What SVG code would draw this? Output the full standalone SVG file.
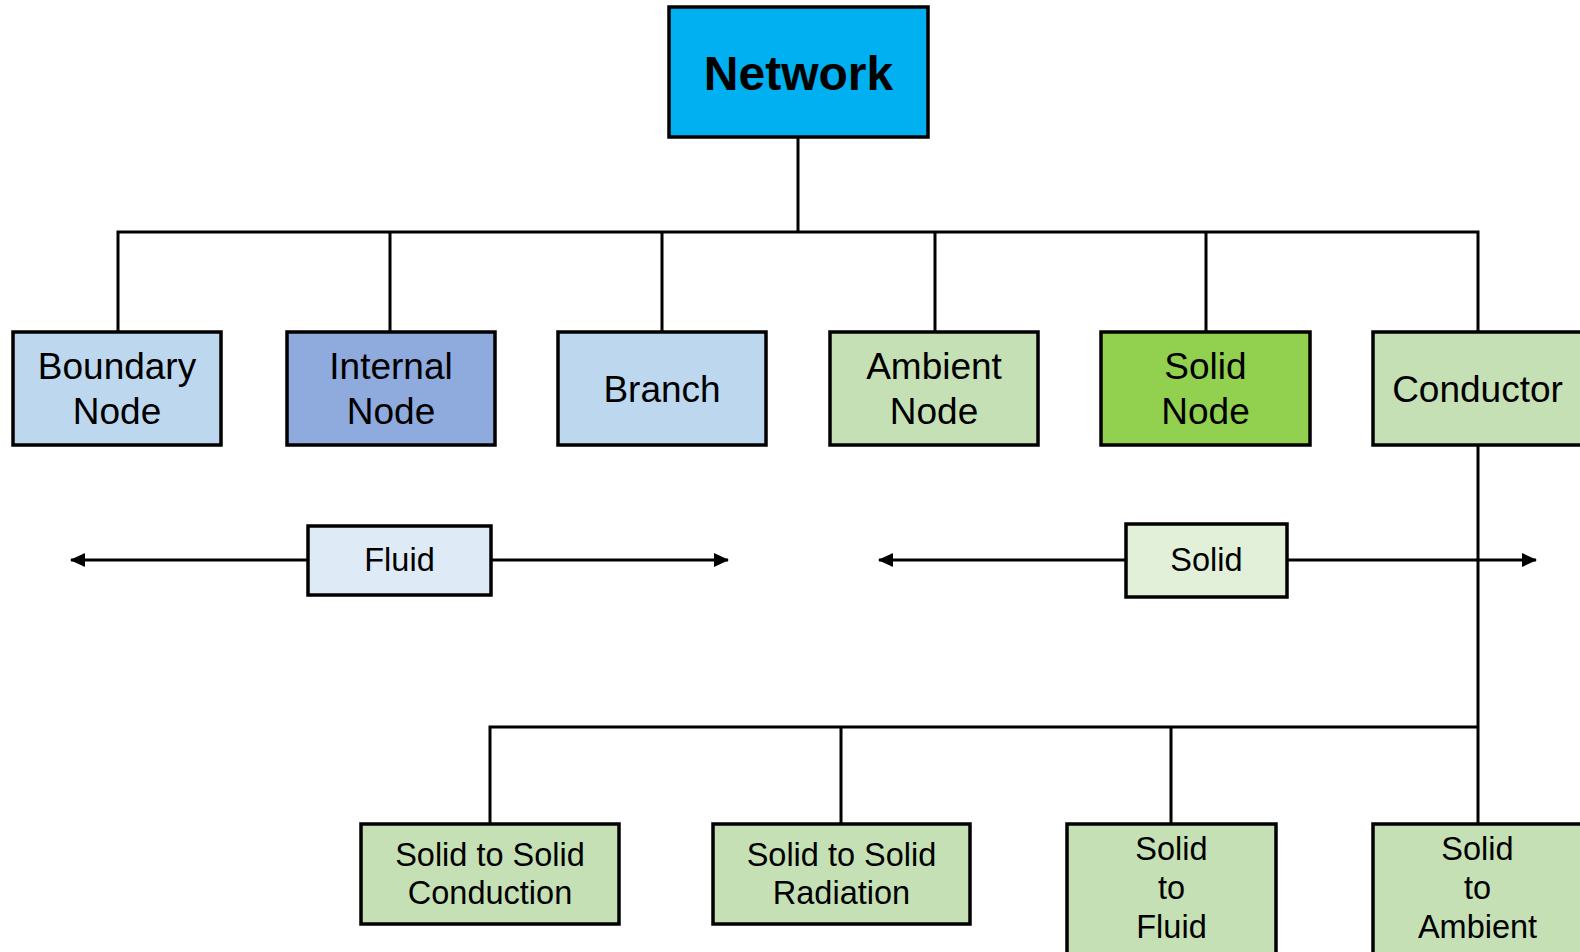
<svg xmlns="http://www.w3.org/2000/svg" width="1580" height="952" viewBox="0 0 1580 952">
  <style>
    .box { stroke: #000; stroke-width: 3.5; }
    .wire { fill: none; stroke: #000; stroke-width: 3; }
    .t { font-family: "Liberation Sans", Arial, sans-serif; fill: #000; text-anchor: middle; }
    .big { font-size: 48px; font-weight: bold; }
    .mid { font-size: 37px; }
    .sm { font-size: 32.5px; }
    .fluidfam { fill: #BDD7EE; }
    .internal { fill: #8FAADC; }
    .thermal { fill: #C5E0B4; }
    .solidnode { fill: #92D050; }
  </style>
  <defs>
    <marker id="arrow" viewBox="0 0 15 14" refX="14" refY="7" markerWidth="15" markerHeight="14" markerUnits="userSpaceOnUse" orient="auto-start-reverse">
      <path d="M0,0 L15,7 L0,14 Z" fill="#000"/>
    </marker>
  </defs>

  <rect width="1580" height="952" fill="#fff"/>

  <!-- connectors -->
  <g id="connectors">
    <path class="wire" d="M798,137 V232"/>
    <path class="wire" d="M118,332 V232 H1478 V332"/>
    <path class="wire" d="M390,232 V332 M662,232 V332 M935,232 V332 M1206,232 V332"/>
    <path class="wire" d="M1478,445 V824"/>
    <path class="wire" d="M490,824 V727 H1478"/>
    <path class="wire" d="M841,727 V824 M1171,727 V824"/>
    <path class="wire" d="M71,560 H728" marker-start="url(#arrow)" marker-end="url(#arrow)"/>
    <path class="wire" d="M879,560 H1536" marker-start="url(#arrow)" marker-end="url(#arrow)"/>
  </g>

  <!-- root -->
  <g id="network">
    <rect class="box" x="669" y="7" width="259" height="130" fill="#00B0F0"/>
    <text class="t big" x="798.5" y="90">Network</text>
  </g>

  <!-- first level -->
  <g id="boundary-node">
    <rect class="box fluidfam" x="13" y="332" width="208" height="113"/>
    <text class="t mid" x="117" y="379">Boundary</text>
    <text class="t mid" x="117" y="424">Node</text>
  </g>
  <g id="internal-node">
    <rect class="box internal" x="287" y="332" width="208" height="113"/>
    <text class="t mid" x="391" y="379">Internal</text>
    <text class="t mid" x="391" y="424">Node</text>
  </g>
  <g id="branch">
    <rect class="box fluidfam" x="558" y="332" width="208" height="113"/>
    <text class="t mid" x="662" y="402">Branch</text>
  </g>
  <g id="ambient-node">
    <rect class="box thermal" x="830" y="332" width="208" height="113"/>
    <text class="t mid" x="934" y="379">Ambient</text>
    <text class="t mid" x="934" y="424">Node</text>
  </g>
  <g id="solid-node">
    <rect class="box solidnode" x="1101" y="332" width="209" height="113"/>
    <text class="t mid" x="1205.5" y="379">Solid</text>
    <text class="t mid" x="1205.5" y="424">Node</text>
  </g>
  <g id="conductor">
    <rect class="box thermal" x="1373" y="332" width="209" height="113"/>
    <text class="t mid" x="1477.5" y="402">Conductor</text>
  </g>

  <!-- domain labels -->
  <g id="fluid-label">
    <rect class="box" x="308" y="526" width="183" height="69" fill="#DEEBF7"/>
    <text class="t sm" x="399.5" y="571">Fluid</text>
  </g>
  <g id="solid-label">
    <rect class="box" x="1126" y="524" width="161" height="73" fill="#E2F0D9"/>
    <text class="t sm" x="1206.5" y="571">Solid</text>
  </g>

  <!-- conductor types -->
  <g id="solid-solid-conduction">
    <rect class="box thermal" x="361" y="824" width="258" height="100"/>
    <text class="t sm" x="490" y="866">Solid to Solid</text>
    <text class="t sm" x="490" y="904">Conduction</text>
  </g>
  <g id="solid-solid-radiation">
    <rect class="box thermal" x="713" y="824" width="257" height="100"/>
    <text class="t sm" x="841.5" y="866">Solid to Solid</text>
    <text class="t sm" x="841.5" y="904">Radiation</text>
  </g>
  <g id="solid-fluid">
    <rect class="box thermal" x="1067" y="824" width="209" height="140"/>
    <text class="t sm" x="1171.5" y="860">Solid</text>
    <text class="t sm" x="1171.5" y="899">to</text>
    <text class="t sm" x="1171.5" y="938">Fluid</text>
  </g>
  <g id="solid-ambient">
    <rect class="box thermal" x="1373" y="824" width="209" height="140"/>
    <text class="t sm" x="1477.5" y="860">Solid</text>
    <text class="t sm" x="1477.5" y="899">to</text>
    <text class="t sm" x="1477.5" y="938">Ambient</text>
  </g>
</svg>
